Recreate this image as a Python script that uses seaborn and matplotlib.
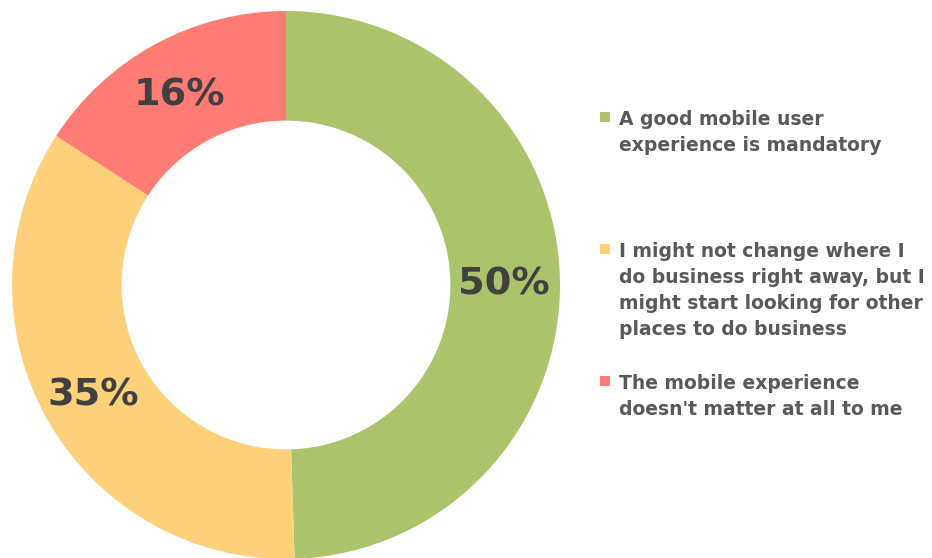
import numpy as np
import matplotlib
matplotlib.use("Agg")
import matplotlib.pyplot as plt
from matplotlib.patches import Rectangle
import seaborn as sns

# Survey answers, drawn clockwise from 12 o'clock
categories = [
    "A good mobile user\nexperience is mandatory",
    "I might not change where I\ndo business right away, but I\nmight start looking for other\nplaces to do business",
    "The mobile experience\ndoesn't matter at all to me",
]
values = [50, 35, 16]
colors = ["#ABC46C", "#FDD079", "#FF7C75"]

sns.set_theme(style="white")
plt.rcParams["font.family"] = ["DejaVu Sans"]

W, H = 932, 558
fig = plt.figure(figsize=(W / 100, H / 100), dpi=100)
ax = fig.add_axes([0, 0, 1, 1])

wedges, _ = ax.pie(
    values,
    colors=colors,
    startangle=90,
    counterclock=False,
    radius=1.0,
    wedgeprops=dict(width=0.40, edgecolor="none", linewidth=0),
)

# Percentage labels in the middle of each ring segment
for w, v in zip(wedges, values):
    mid = np.deg2rad((w.theta1 + w.theta2) / 2)
    ax.text(0.80 * np.cos(mid) - 0.005, 0.80 * np.sin(mid) - 0.01, f"{v}%",
            ha="center", va="center", fontsize=27.5, fontweight="bold",
            color="#404040")

# Ring centre at (286, 285) px, radius 274 px
cx, cy, r = 286, 285, 274
ax.set_xlim(-cx / r, (W - cx) / r)
ax.set_ylim(-(H - cy) / r, cy / r)
ax.set_aspect("equal", adjustable="box")
ax.axis("off")

# Legend: square swatch plus bold grey text lines
first_baselines = [125, 257, 389]
line_step = 26
for label, col, base in zip(categories, colors, first_baselines):
    fig.patches.append(Rectangle((600 / W, 1 - (base - 3) / H), 10 / W, 10 / H,
                                 transform=fig.transFigure, facecolor=col,
                                 edgecolor="none"))
    for i, line in enumerate(label.split("\n")):
        fig.text(619 / W, 1 - (base + i * line_step) / H, line,
                 ha="left", va="baseline", fontsize=13.5, fontweight="bold",
                 color="#595959")

fig.savefig("out.png", dpi=100, facecolor="white")
